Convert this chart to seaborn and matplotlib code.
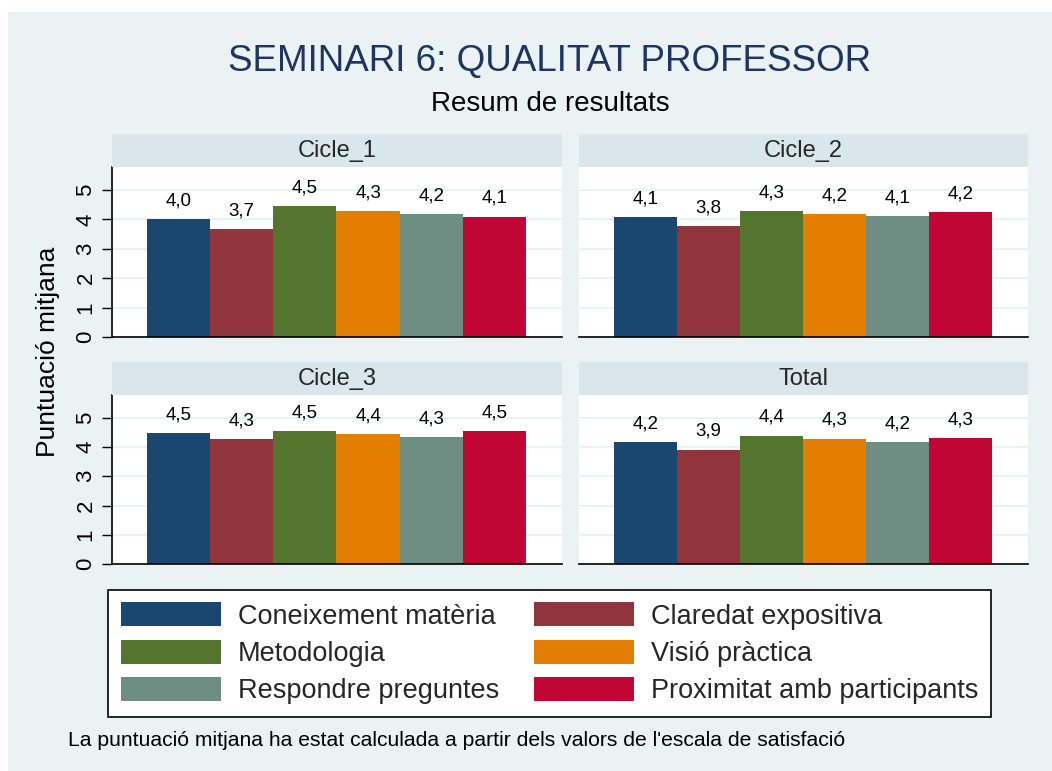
import matplotlib
matplotlib.use("Agg")
import matplotlib.pyplot as plt
from matplotlib.patches import Rectangle, Patch
import seaborn as sns
import pandas as pd

# ---- data ----
criteris = ["Coneixement matèria", "Claredat expositiva", "Metodologia",
            "Visió pràctica", "Respondre preguntes", "Proximitat amb participants"]
panels = ["Cicle_1", "Cicle_2", "Cicle_3", "Total"]
cicle_1 = [4.00, 3.67, 4.46, 4.29, 4.17, 4.09]
cicle_2 = [4.08, 3.76, 4.27, 4.19, 4.10, 4.24]
cicle_3 = [4.47, 4.28, 4.54, 4.44, 4.33, 4.54]
total = [4.18, 3.91, 4.39, 4.29, 4.18, 4.30]
yticks = [0, 1, 2, 3, 4, 5]

colors = ["#1a476f", "#90353b", "#55752f", "#e37e00", "#6e8e84", "#c10534"]

rows = []
for p, vals in zip(panels, [cicle_1, cicle_2, cicle_3, total]):
    for c, v in zip(criteris, vals):
        rows.append({"panel": p, "criteri": c, "valor": v})
df = pd.DataFrame(rows)

sns.set_style("white")
plt.rcParams["font.family"] = ["Liberation Sans", "DejaVu Sans"]

W, H = 1052, 771
fig = plt.figure(figsize=(W / 100, H / 100), dpi=100)
fig.patch.set_facecolor("white")
BG = "#eaf2f3"
STRIP = "#d9e6eb"
fig.patches.append(Rectangle((8 / W, 0), 1 - 8 / W, 1 - 12 / H, transform=fig.transFigure,
                             facecolor=BG, edgecolor="none", zorder=-10))


def fx(px):
    return px / W


def fy(py):
    return 1 - py / H


cols = [(112, 562), (579, 1028)]
rws = [(134, 167, 337), (362, 395, 564)]

for i, p in enumerate(panels):
    r, c = divmod(i, 2)
    x0, x1 = cols[c]
    st, y0, y1 = rws[r]
    ax = fig.add_axes([fx(x0), fy(y1), fx(x1 - x0), (y1 - y0) / H])
    sub = df[df["panel"] == p]
    sns.barplot(data=sub, x="criteri", y="valor", hue="criteri", palette=colors,
                order=criteris, hue_order=criteris, width=1, dodge=False,
                saturation=1, legend=False, ax=ax, linewidth=0, errorbar=None)
    ax.set_facecolor("white")
    ax.set_xlim(-1.054, 6.07)
    ax.set_ylim(0, 5.78)
    ax.set_yticks(yticks)
    ax.yaxis.grid(True, color=BG, linewidth=1.6)
    ax.set_axisbelow(True)
    ax.set_xlabel("")
    ax.set_ylabel("")
    ax.set_xticks([])
    for s in ["top", "right"]:
        ax.spines[s].set_visible(False)
    ax.spines["bottom"].set_color("black")
    ax.spines["bottom"].set_linewidth(1.2)
    if c == 0:
        ax.spines["left"].set_color("black")
        ax.spines["left"].set_linewidth(1.2)
        ax.tick_params(axis="y", left=True, length=7.2, width=1, labelsize=16,
                       labelrotation=90, pad=4, colors="black")
        for t in ax.get_yticklabels():
            t.set_va("center")
    else:
        ax.spines["left"].set_visible(False)
        ax.tick_params(axis="y", left=False, labelleft=False)
    for cont in ax.containers:
        ax.bar_label(cont, fmt=lambda v: f"{v:.1f}".replace(".", ","),
                     padding=7, fontsize=13.5, color="black")
    # strip
    sax = fig.add_axes([fx(x0), fy(y0), fx(x1 - x0), (y0 - st) / H])
    sax.set_facecolor(STRIP)
    sax.set_xticks([])
    sax.set_yticks([])
    for s in sax.spines.values():
        s.set_visible(False)
    sax.text(0.5, 0.47, p, ha="center", va="center", fontsize=17, transform=sax.transAxes)

fig.text(fx(549.5), fy(61), "SEMINARI 6: QUALITAT PROFESSOR", ha="center", va="center",
         fontsize=26.5, color="#1e3461")
fig.text(fx(550), fy(104), "Resum de resultats", ha="center", va="center", fontsize=20,
         color="black")
fig.text(fx(48), fy(352), "Puntuació mitjana", ha="center", va="center", rotation=90,
         fontsize=19, color="black")

handles = [Patch(facecolor=col, edgecolor="none", label=lab) for col, lab in zip(colors, criteris)]
order = [0, 2, 4, 1, 3, 5]  # row-wise filling for a 2-column legend
handles = [handles[k] for k in order]
leg = fig.legend(handles=handles, ncol=2, loc="upper center",
                 bbox_to_anchor=(fx(549.5), fy(590)), fontsize=19.5, frameon=True,
                 fancybox=False, edgecolor="black", facecolor="white", framealpha=1,
                 handlelength=3.7, handleheight=1.0, handletextpad=0.62,
                 columnspacing=1.3, labelspacing=0.37, borderpad=0.45, borderaxespad=0)
leg.get_frame().set_linewidth(1.2)

fig.text(fx(68), fy(741), "La puntuació mitjana ha estat calculada a partir dels valors de l'escala de satisfació",
         ha="left", va="center", fontsize=15.2, color="black")

fig.savefig("out.png", dpi=100, facecolor=fig.get_facecolor())
